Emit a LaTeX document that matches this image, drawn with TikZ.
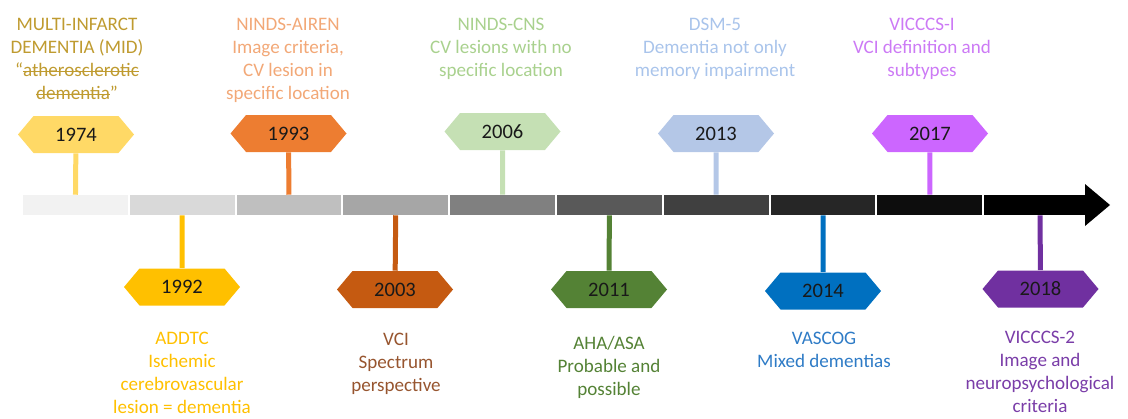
\documentclass[tikz,border=0pt]{standalone}
\usepackage{fontspec}
\setmainfont{Carlito}
\usetikzlibrary{shapes.symbols}

% struck-through word
\newsavebox\strikebox
\newcommand\crossout[1]{\sbox\strikebox{#1}\rlap{\rule[0.24em]{\wd\strikebox}{0.075em}}\usebox\strikebox}

% marker fills and label colours
\definecolor{mid}{HTML}{FFD966}   \definecolor{midtxt}{HTML}{BF9B30}
\definecolor{addtc}{HTML}{FFC000} \definecolor{addtctxt}{HTML}{FFC000}
\definecolor{airen}{HTML}{ED7D31} \definecolor{airentxt}{HTML}{F2A877}
\definecolor{vci}{HTML}{C55A11}   \definecolor{vcitxt}{HTML}{97552F}
\definecolor{cns}{HTML}{C5E0B4}   \definecolor{cnstxt}{HTML}{A9D18E}
\definecolor{aha}{HTML}{548235}   \definecolor{ahatxt}{HTML}{548235}
\definecolor{dsm}{HTML}{B4C7E7}   \definecolor{dsmtxt}{HTML}{A9C4EB}
\definecolor{vascog}{HTML}{0070C0}\definecolor{vascogtxt}{HTML}{2E7BC6}
\definecolor{vicone}{HTML}{CC66FF}\definecolor{viconetxt}{HTML}{CC7AF5}
\definecolor{victwo}{HTML}{7030A0}\definecolor{victwotxt}{HTML}{7A3DA8}

\tikzset{
  seg/.style={rectangle, inner sep=0, minimum width=78.6pt, minimum height=15pt},
  year/.style={signal, signal to=west and east, signal pointer angle=100,
    inner sep=0, minimum width=87pt, minimum height=27.75pt,
    font=\fontsize{15.4pt}{18pt}\selectfont, text=black!90},
  lbl/.style={align=center, inner sep=0, anchor=north,
    font=\fontsize{14.3pt}{17.25pt}\selectfont},
  stem/.style={line width=3.75pt}
}

\begin{document}
\begin{tikzpicture}[x=0.75pt,y=-0.75pt]
\useasboundingbox (0,0) rectangle (1128,418);

% the time bar, light to dark
\node[seg, fill=black!5]  (s1) at (75.4,205) {};
\node[seg, fill=black!15] (s2) at (182.2,205) {};
\node[seg, fill=black!25] (s3) at (289,205) {};
\node[seg, fill=black!35] (s4) at (395.8,205) {};
\node[seg, fill=black!50] (s5) at (502.6,205) {};
\node[seg, fill=black!65] (s6) at (609.4,205) {};
\node[seg, fill=black!75] (s7) at (716.2,205) {};
\node[seg, fill=black!85] (s8) at (823,205) {};
\node[seg, fill=black!95] (s9) at (929.8,205) {};
\node[seg, fill=black, minimum width=84pt] (s10) at (1040,205) {};
\fill (1085,184) -- (1110,205) -- (1085,226) -- cycle;

% years above the bar
\node[year, fill=mid]    (y1974) at (76,134.5) {1974};
\node[year, fill=airen]  (y1993) at (288.5,133.5) {1993};
\node[year, fill=cns]    (y2006) at (502.5,131.5) {2006};
\node[year, fill=dsm]    (y2013) at (716,133.5) {2013};
\node[year, fill=vicone] (y2017) at (930,133.5) {2017};

% years below the bar
\node[year, fill=addtc]  (y1992) at (182,287) {1992};
\node[year, fill=vci]    (y2003) at (395,289.5) {2003};
\node[year, fill=aha]    (y2011) at (609,289.5) {2011};
\node[year, fill=vascog] (y2014) at (823,291) {2014};
\node[year, fill=victwo] (y2018) at (1040.5,289) {2018};

\draw[stem, mid]    (y1974) -- (s1);
\draw[stem, addtc]  (y1992) -- (s2);
\draw[stem, airen]  (y1993) -- (s3);
\draw[stem, vci]    (y2003) -- (s4);
\draw[stem, cns]    (y2006) -- (s5);
\draw[stem, aha]    (y2011) -- (s6);
\draw[stem, dsm]    (y2013) -- (s7);
\draw[stem, vascog] (y2014) -- (s8);
\draw[stem, vicone] (y2017) -- (s9);
\draw[stem, victwo] (y2018) -- (s10);

% criteria texts
\node[lbl, text=midtxt]    (t1974) at (77,18) {MULTI-INFARCT\\DEMENTIA (MID)\\“\crossout{atherosclerotic}\\\crossout{dementia}”};
\node[lbl, text=airentxt]  (t1993) at (288,18) {NINDS-AIREN\\Image criteria,\\CV lesion in\\specific location};
\node[lbl, text=cnstxt]    (t2006) at (501,18) {NINDS-CNS\\CV lesions with no\\specific location};
\node[lbl, text=dsmtxt]    (t2013) at (715,18) {DSM-5\\Dementia not only\\memory impairment};
\node[lbl, text=viconetxt] (t2017) at (922,18) {VICCCS-I\\VCI definition and\\subtypes};
\node[lbl, text=addtctxt]  (t1992) at (182,332) {ADDTC\\Ischemic\\cerebrovascular\\lesion = dementia};
\node[lbl, text=vcitxt]    (t2003) at (396,333) {VCI\\Spectrum\\perspective};
\node[lbl, text=ahatxt]    (t2011) at (609,336) {AHA/ASA\\Probable and\\possible};
\node[lbl, text=vascogtxt] (t2014) at (824,332) {VASCOG\\Mixed dementias};
\node[lbl, text=victwotxt] (t2018) at (1040,331) {VICCCS-2\\Image and\\neuropsychological\\criteria};
\end{tikzpicture}
\end{document}
